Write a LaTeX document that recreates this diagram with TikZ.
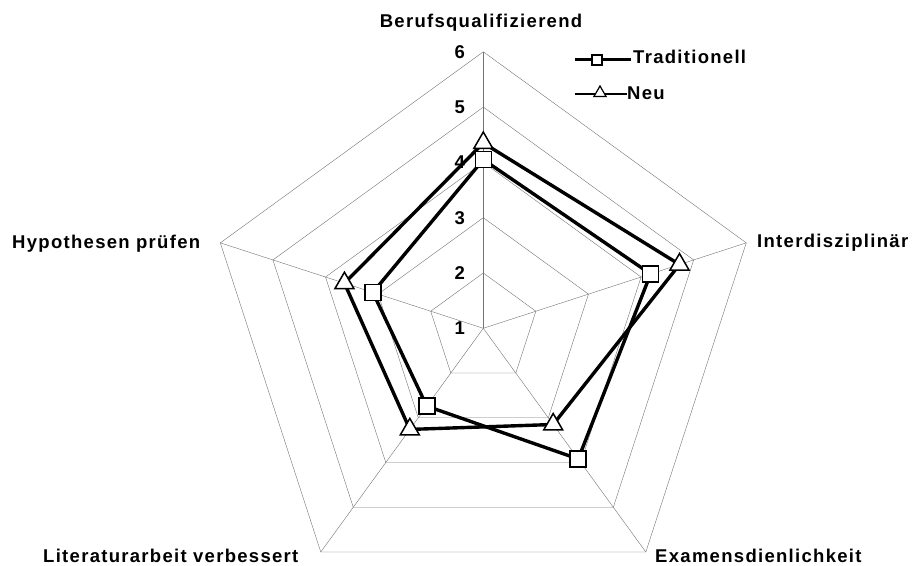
\documentclass[tikz,border=0pt]{standalone}
\usepackage{fontspec}
\setmainfont{Liberation Sans}
\newfontfamily\chartfont[LetterSpace=7]{Liberation Sans}
\usetikzlibrary{shapes,positioning}
\tikzset{
    %Define styles for the radar chart
    web/.style={
        draw=black!55,
        line width=0.4pt,
    },
    dataline/.style={
        draw=black,
        line width=3.4pt,
        line join=miter,
    },
    sq/.style={
        rectangle,
        draw=black, line width=1.5pt,
        fill=white,
        minimum size=16pt,
        inner sep=0pt,
    },
    tri/.style={
        regular polygon,
        regular polygon sides=3,
        draw=black, line width=1.5pt,
        fill=white,
        minimum size=22pt,
        inner sep=0pt,
    },
    axislbl/.style={
        draw = none,
        font = \chartfont\bfseries\fontsize{18.5}{20}\selectfont,
        inner sep=0pt,
    },
    numlbl/.style={
        draw = none,
        anchor = east,
        font = \chartfont\bfseries\fontsize{18.5}{20}\selectfont,
        inner sep=0pt,
    },
}
\begin{document}
\begin{tikzpicture}[x=1pt,y=1pt]
    \useasboundingbox (-483.3,-236.7) rectangle (428.7,328.3);

    % web
    \coordinate (O) at (0,0);
    \foreach \k in {1,...,5}
        \draw[web] (90:{\k*55.3}) -- (18:{\k*55.3}) -- (-54:{\k*55.3})
            -- (-126:{\k*55.3}) -- (162:{\k*55.3}) -- cycle;
    \coordinate (ax1) at (90:276.5);
    \coordinate (ax2) at (18:276.5);
    \coordinate (ax3) at (-54:276.5);
    \coordinate (ax4) at (-126:276.5);
    \coordinate (ax5) at (162:276.5);
    \draw[web] (O) -- (ax1);
    \draw[web] (O) -- (ax2);
    \draw[web] (O) -- (ax3);
    \draw[web] (O) -- (ax4);
    \draw[web] (O) -- (ax5);

    % scale
    \node[numlbl] (n1) at (-18.3,0) {1};
    \node[numlbl] (n2) at (-18.3,55.3) {2};
    \node[numlbl] (n3) at (-18.3,110.6) {3};
    \node[numlbl] (n4) at (-18.3,165.9) {4};
    \node[numlbl] (n5) at (-18.3,221.2) {5};
    \node[numlbl] (n6) at (-18.3,276.5) {6};

    % axis labels
    \node[axislbl, anchor=base] (beruf) at (-2.3,300.3) {Berufsqualifizierend};
    \node[axislbl, anchor=base west] (inter) at (273.7,81.3) {Interdisziplinär};
    \node[axislbl, anchor=base west] (exam) at (171.7,-233.7) {Examensdienlichkeit};
    \node[axislbl, anchor=base west] (lit) at (-440.3,-233.7) {Literaturarbeit verbessert};
    \node[axislbl, anchor=base west] (hypo) at (-471.3,80.3) {Hypothesen prüfen};

    % Traditionell
    \coordinate (t1) at (90:168.7);
    \coordinate (t2) at (18:175.9);
    \coordinate (t3) at (-54:161.5);
    \coordinate (t4) at (-126:96.2);
    \coordinate (t5) at (162:116.1);
    \draw[dataline] (t1) -- (t2) -- (t3) -- (t4) -- (t5) -- cycle;

    % Neu
    \coordinate (u1) at (90:185.3);
    \coordinate (u2) at (18:206.3);
    \coordinate (u3) at (-54:118.9);
    \coordinate (u4) at (-126:125.0);
    \coordinate (u5) at (162:146.0);
    \draw[dataline] (u1) -- (u2) -- (u3) -- (u4) -- (u5) -- cycle;

    \node[sq] (mt1) at (t1) {};
    \node[sq] (mt2) at (t2) {};
    \node[sq] (mt3) at (t3) {};
    \node[sq] (mt4) at (t4) {};
    \node[sq] (mt5) at (t5) {};
    \node[tri] (mu1) at (u1) {};
    \node[tri] (mu2) at (u2) {};
    \node[tri] (mu3) at (u3) {};
    \node[tri] (mu4) at (u4) {};
    \node[tri] (mu5) at (u5) {};

    % legend
    \coordinate (lt1) at (91.7,268.3);
    \coordinate (lt2) at (147.7,268.3);
    \draw[line width=3pt] (lt1) -- (lt2);
    \node[sq, minimum size=10pt, line width=1.2pt] (lt) at (113.7,268.3) {};
    \node[axislbl, anchor=base west] (ltxt) at (149.7,264.3) {Traditionell};
    \coordinate (ln1) at (91.7,234.3);
    \coordinate (ln2) at (143.7,234.3);
    \draw[line width=2.4pt] (ln1) -- (ln2);
    \node[tri, minimum size=14pt, line width=1.2pt] (ln) at (116.7,235.3) {};
    \node[axislbl, anchor=base west] (lntxt) at (143.7,228.3) {Neu};
\end{tikzpicture}
\end{document}
